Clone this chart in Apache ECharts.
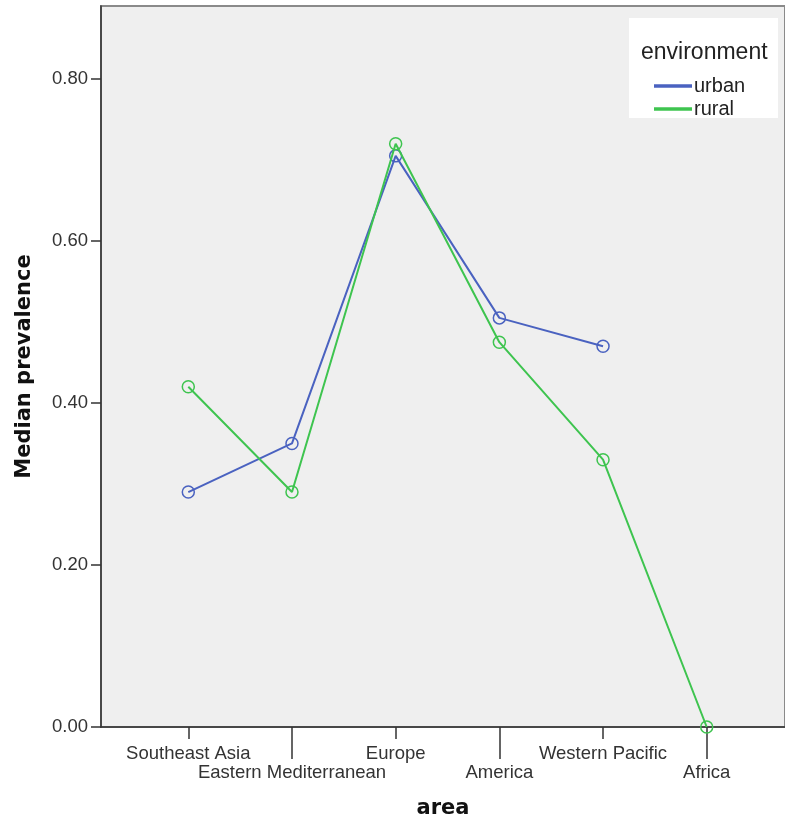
<!DOCTYPE html>
<html>
<head>
<meta charset="utf-8">
<title>Median prevalence by area</title>
<script src="https://cdn.jsdelivr.net/npm/echarts@6/dist/echarts.min.js"></script>
<style>
  html, body { margin: 0; padding: 0; background: #ffffff; }
  #chart { width: 785px; height: 825px; }
</style>
</head>
<body>
<div id="chart"></div>
<script>
// Regions along the x axis, in plotting order
const areas = ['Southeast Asia', 'Eastern Mediterranean', 'Europe', 'America', 'Western Pacific', 'Africa'];
// Median prevalence per region (null = no urban value)
const urban = [0.29, 0.35, 0.705, 0.505, 0.47, null];
const rural = [0.42, 0.29, 0.72, 0.475, 0.33, 0.00];
// Y axis tick values
const yTicks = [0.0, 0.2, 0.4, 0.6, 0.8];

const urbanColor = '#4a62c0';
const ruralColor = '#3ec44f';

const idx = areas.map((_, i) => i);
const upperRow = idx.filter(i => i % 2 === 0);
const lowerRow = idx.filter(i => i % 2 === 1);

const labelFont = { fontFamily: 'Liberation Sans, Arial, sans-serif', fontSize: 18.5, color: '#333' };
const titleFont = { fontFamily: 'DejaVu Sans, sans-serif', fontSize: 21, fontWeight: 'bold', color: '#111' };

const chart = echarts.init(document.getElementById('chart'), null, { renderer: 'canvas' });

function xAxisFor(values, tickLen, margin, showLine, named) {
  return {
    type: 'value',
    position: 'bottom',
    min: -0.842,
    max: 5.755,
    name: named ? 'area' : '',
    nameLocation: 'middle',
    nameGap: 71,
    nameTextStyle: titleFont,
    axisLine: { show: showLine, onZero: false, lineStyle: { color: '#333', width: 1.5 } },
    axisTick: { show: true, customValues: values, length: tickLen, lineStyle: { color: '#333', width: 1.5 } },
    axisLabel: {
      customValues: values,
      margin: margin,
      ...labelFont,
      formatter: v => areas[Math.round(v)] || ''
    },
    splitLine: { show: false }
  };
}

function lineSeries(name, values, color, z) {
  return {
    name: name, type: 'line', xAxisIndex: 0,
    data: values.map((v, i) => [i, v]),
    symbol: 'circle', symbolSize: 12,
    connectNulls: false,
    lineStyle: { color: color, width: 2 },
    itemStyle: { color: 'rgba(0,0,0,0)', borderColor: color, borderWidth: 1.5 },
    z: z
  };
}

chart.setOption({
  animation: false,
  backgroundColor: '#ffffff',
  grid: {
    left: 101, right: -3, top: 6, bottom: 98,
    show: true,
    backgroundColor: '#efefef',
    borderColor: '#8a8a8a',
    borderWidth: 2
  },
  title: {
    text: 'environment',
    left: 636, top: 36,
    textStyle: { fontFamily: 'Liberation Sans, Arial, sans-serif', fontSize: 23, fontWeight: 'normal', color: '#222' }
  },
  graphic: [{
    type: 'rect', z: 0, zlevel: 0,
    shape: { x: 629, y: 18, width: 149, height: 100 },
    style: { fill: '#ffffff' }
  }],
  legend: {
    orient: 'vertical',
    left: 654, top: 76,
    itemWidth: 36, itemHeight: 1.5, itemGap: 3,
    icon: 'rect',
    padding: 0,
    textStyle: { fontFamily: 'Liberation Sans, Arial, sans-serif', fontSize: 20, lineHeight: 20, color: '#222', padding: [0, 0, 0, -2] },
    data: [
      { name: 'urban', itemStyle: { color: urbanColor } },
      { name: 'rural', itemStyle: { color: ruralColor } }
    ]
  },
  xAxis: [
    xAxisFor(upperRow, 12, 17, true, true),
    xAxisFor(lowerRow, 32, 36, false, false)
  ],
  yAxis: {
    type: 'value',
    min: 0, max: 0.89,
    name: 'Median prevalence',
    nameLocation: 'middle',
    nameGap: 66,
    nameTextStyle: titleFont,
    axisLine: { show: true, onZero: false, lineStyle: { color: '#333', width: 1.5 } },
    axisTick: { show: true, customValues: yTicks, length: 10, lineStyle: { color: '#333', width: 1.5 } },
    axisLabel: { customValues: yTicks, margin: 13, ...labelFont, formatter: v => v.toFixed(2) },
    splitLine: { show: false }
  },
  series: [
    lineSeries('urban', urban, urbanColor, 3),
    lineSeries('rural', rural, ruralColor, 4)
  ]
});
</script>
</body>
</html>
